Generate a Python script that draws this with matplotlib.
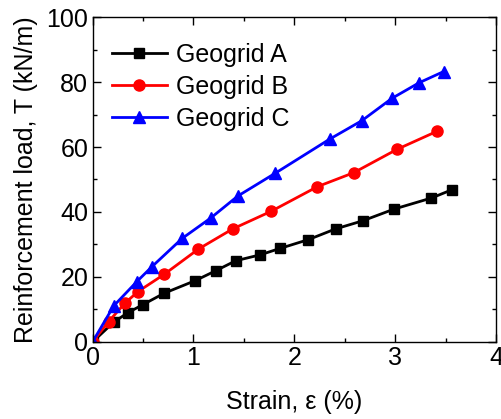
import matplotlib.pyplot as plt
from matplotlib.ticker import MultipleLocator

plt.rcParams['font.family'] = ['Liberation Sans', 'DejaVu Sans']

# Load-strain data for the three geogrids
strain_a = [0, 0.21, 0.35, 0.50, 0.71, 1.02, 1.22, 1.42, 1.66, 1.86, 2.14, 2.41, 2.68, 2.99, 3.36, 3.56]
load_a = [0, 6.1, 9.0, 11.5, 15.0, 18.9, 21.9, 25.0, 26.8, 28.8, 31.5, 34.8, 37.3, 40.9, 44.3, 46.8]

strain_b = [0, 0.16, 0.32, 0.45, 0.71, 1.05, 1.39, 1.77, 2.23, 2.59, 3.02, 3.42]
load_b = [0, 6.3, 11.9, 15.5, 20.8, 28.6, 34.8, 40.2, 47.8, 52.1, 59.3, 64.9]

strain_c = [0, 0.21, 0.44, 0.59, 0.89, 1.17, 1.44, 1.81, 2.35, 2.67, 2.97, 3.24, 3.48]
load_c = [0, 11.1, 18.6, 23.2, 31.9, 38.1, 44.9, 51.9, 62.4, 68.1, 75.0, 79.8, 83.2]

fig = plt.figure(figsize=(5.02, 4.19), dpi=100)
ax = fig.add_axes([0.1843, 0.1838, 0.8037, 0.7756])

ax.plot(strain_a, load_a, color='black', marker='s', markersize=7, lw=2, label='Geogrid A')
ax.plot(strain_b, load_b, color='red', marker='o', markersize=8, lw=2, label='Geogrid B')
ax.plot(strain_c, load_c, color='blue', marker='^', markersize=9, lw=2, label='Geogrid C')

ax.set_xlim(0, 4)
ax.set_ylim(0, 100)
ax.xaxis.set_major_locator(MultipleLocator(1))
ax.xaxis.set_minor_locator(MultipleLocator(0.5))
ax.yaxis.set_major_locator(MultipleLocator(20))
ax.yaxis.set_minor_locator(MultipleLocator(10))
ax.tick_params(which='both', direction='in', top=True, right=True, labelsize=18, width=1)
ax.tick_params(which='major', length=6, pad=3)
ax.tick_params(which='minor', length=3)
for s in ax.spines.values():
    s.set_linewidth(1)

ax.set_xlabel('Strain, ε (%)', fontsize=18, labelpad=14)
ax.set_ylabel('Reinforcement load, T (kN/m)', fontsize=18, labelpad=6)

ax.legend(loc='upper left', frameon=False, fontsize=18, handlelength=2.2,
          handletextpad=0.35, labelspacing=0.32, borderpad=0, borderaxespad=0,
          bbox_to_anchor=(0.048, 0.92))

fig.savefig('out.png', dpi=100)
